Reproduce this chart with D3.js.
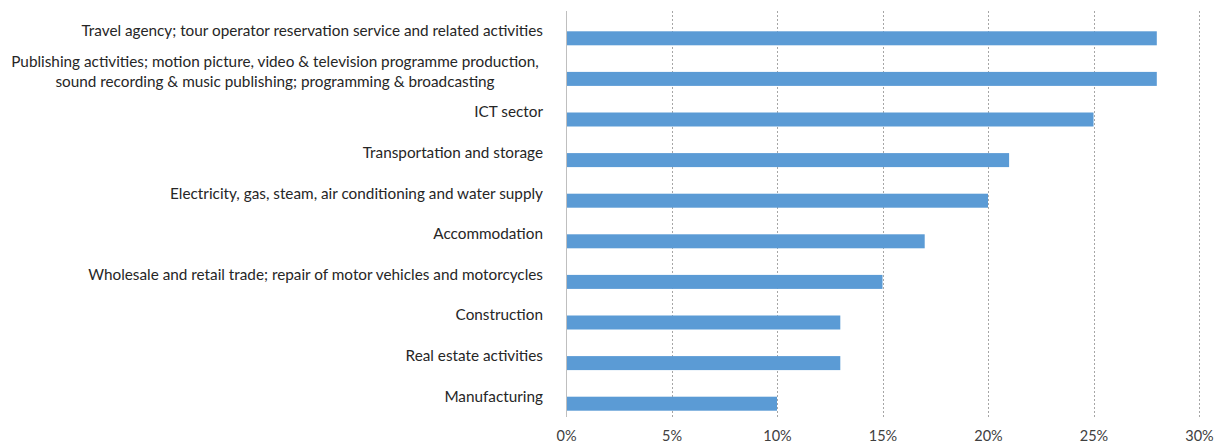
<!DOCTYPE html>
<html><head><meta charset="utf-8">
<script src="https://cdn.jsdelivr.net/npm/d3@7"></script>
<style>body{margin:0;background:#fff;} text{font-family:Lato, "Open Sans", sans-serif;}</style>
</head><body>
<svg id="chart" width="1220" height="444"></svg>
<script>
const categories = [
  ["Travel agency; tour operator reservation service and related activities"],
  ["Publishing activities; motion picture, video & television programme production,", "sound recording & music publishing; programming & broadcasting"],
  ["ICT sector"],
  ["Transportation and storage"],
  ["Electricity, gas, steam, air conditioning and water supply"],
  ["Accommodation"],
  ["Wholesale and retail trade; repair of motor vehicles and motorcycles"],
  ["Construction"],
  ["Real estate activities"],
  ["Manufacturing"]
];
const values = [28, 28, 25, 21, 20, 17, 15, 13, 13, 10];
const ticks = [0, 5, 10, 15, 20, 25, 30];

const svg = d3.select("#chart");
const pLeft = 566, pRight = 1199, pTop = 11, pBottom = 417;
const x = d3.scaleLinear().domain([0, 30]).range([pLeft, pRight]);
const y = d3.scaleBand().domain(d3.range(categories.length)).range([pTop, pBottom]).padding(0);
const band = y.bandwidth();
const barH = 14;

// gridlines
svg.append("g").selectAll("line").data(ticks.slice(1)).join("line")
  .attr("x1", d => Math.round(x(d)) + 0.5).attr("x2", d => Math.round(x(d)) + 0.5).attr("y1", pTop).attr("y2", pBottom)
  .attr("stroke", "#a6a6a6").attr("stroke-width", 1).attr("stroke-dasharray", "2,2");

// bars
svg.append("g").selectAll("rect").data(values).join("rect")
  .attr("x", x(0)).attr("y", (d, i) => y(i) + band / 2)
  .attr("width", d => x(d) - x(0)).attr("height", barH).attr("fill", "#5b9bd5");

// y axis line
svg.append("line").attr("x1", pLeft + 0.5).attr("x2", pLeft + 0.5).attr("y1", pTop).attr("y2", pBottom)
  .attr("stroke", "#bfbfbf").attr("stroke-width", 1);

// x axis tick labels
const xAxis = d3.axisBottom(x).tickValues(ticks).tickFormat(d => d + "%").tickSize(0).tickPadding(0);
const gx = svg.append("g").attr("transform", `translate(0, 431)`).call(xAxis);
gx.select(".domain").remove();
gx.selectAll("text").attr("font-family", "Lato, sans-serif").attr("font-size", 14.5).attr("fill", "#404040").attr("dy", "0.71em");

// category labels
const fs = 15.3;
const lab = svg.append("g");
categories.forEach((lines, i) => {
  const cy = y(i) + band / 2 - 0.5;
  if (lines.length === 1) {
    lab.append("text").attr("x", 543).attr("y", cy).attr("dy", "0.35em")
      .attr("text-anchor", "end").attr("font-size", fs).attr("fill", "#262626").text(lines[0]);
  } else {
    const t = lab.append("text").attr("text-anchor", "middle").attr("font-size", fs).attr("fill", "#262626");
    const lh = 20;
    lines.forEach((l, k) => {
      t.append("tspan").attr("x", 275).attr("y", cy + 0.5 + (k - (lines.length - 1) / 2) * lh).attr("dy", "0.35em").text(l);
    });
  }
});
</script>
</body></html>
